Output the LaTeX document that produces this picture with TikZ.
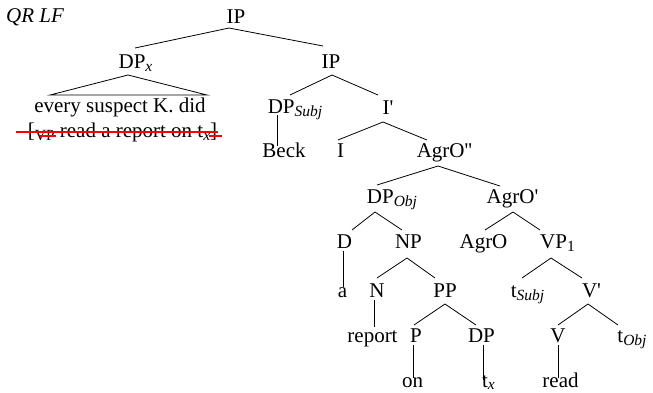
\documentclass[tikz,border=0pt]{standalone}
\usepackage{fontspec}
\newfontfamily\tms{Liberation Serif}
\newcommand{\mysub}[2][-3.5pt]{\raisebox{#1}{\fontsize{15.5}{16}\selectfont #2}}
\begin{document}
\begin{tikzpicture}[x=1pt,y=-1pt,
  lbl/.style={anchor=base,inner sep=0pt,font=\tms\fontsize{21}{24}\selectfont},
  edge/.style={line width=0.8pt},
  strike/.style={red,line width=1.6pt}]
\useasboundingbox (0,0) rectangle (653,392);
% labels
\node[lbl,anchor=base west] (qr) at (6,22) {\itshape QR LF};
\node[lbl] (IPr) at (236,23) {IP};
\node[lbl] (DPx) at (135.5,68) {DP\mysub{\itshape x}};
\node[lbl] (IP2) at (331,68) {IP};
\node[lbl] (ev1) at (120,112) {every suspect K. did};
\node[lbl] (ev2) at (122.5,137) {[\mysub{VP} read a report on t\mysub{\itshape x}]};
\node[lbl] (DPs) at (295,113) {DP\mysub{\itshape Subj}};
\node[lbl] (Ib) at (388,114) {I'};
\node[lbl] (Beck) at (284,157) {Beck};
\node[lbl] (I) at (340.5,157) {I};
\node[lbl] (AgrOpp) at (444.5,157) {AgrO''};
\node[lbl] (DPo) at (392,203) {DP\mysub{\itshape Obj}};
\node[lbl] (AgrOp) at (512.5,203) {AgrO'};
\node[lbl] (D) at (344.5,248) {D};
\node[lbl] (NP) at (408.5,248) {NP};
\node[lbl] (AgrO) at (483.5,248) {AgrO};
\node[lbl] (VP1) at (557.5,248) {VP\mysub{1}};
\node[lbl] (a) at (342.5,297) {a};
\node[lbl] (N) at (377,297) {N};
\node[lbl] (PP) at (445,297) {PP};
\node[lbl] (tS) at (527.5,297) {t\mysub{\itshape Subj}};
\node[lbl] (Vb) at (591.5,297) {V'};
\node[lbl] (report) at (372.5,342) {report};
\node[lbl] (P) at (416,342) {P};
\node[lbl] (DPt) at (481.5,342) {DP};
\node[lbl] (V) at (558,342) {V};
\node[lbl] (tO) at (632,342) {t\mysub{\itshape Obj}};
\node[lbl] (on) at (412.5,387) {on};
\node[lbl] (tx) at (488.5,387) {t\mysub[-2pt]{\itshape x}};
\node[lbl] (read) at (560.5,387) {read};
% branches
\draw[edge] ([shift={(-0.5,-20)}]DPx.base) -- ([shift={(-7,5)}]IPr.base) -- ([shift={(-8,-22)}]IP2.base);
\draw[edge] ([shift={(-70,-17)}]ev1.base) -- ([shift={(-7.5,7)}]DPx.base) -- ([shift={(87,-17)}]ev1.base) -- cycle;
\draw[edge] ([shift={(-5,-18)}]DPs.base) -- ([shift={(1,7)}]IP2.base) -- ([shift={(-10,-19)}]Ib.base);
\draw[edge] ([shift={(-18,2)}]DPs.base) -- ([shift={(-7,-11)}]Beck.base);
\draw[edge] ([shift={(-2.5,-17)}]I.base) -- ([shift={(-5,8)}]Ib.base) -- ([shift={(-17.5,-17)}]AgrOpp.base);
\draw[edge] ([shift={(-15,-18)}]DPo.base) -- ([shift={(-6.5,9)}]AgrOpp.base) -- ([shift={(-12.5,-17)}]AgrOp.base);
\draw[edge] ([shift={(7.5,-18)}]D.base) -- ([shift={(-17,9)}]DPo.base) -- ([shift={(-6.5,-18)}]NP.base);
\draw[edge] ([shift={(-1.5,3)}]D.base) -- ([shift={(0.5,-10)}]a.base);
\draw[edge] ([shift={(1.5,-18)}]AgrO.base) -- ([shift={(0.5,9)}]AgrOp.base) -- ([shift={(-17.5,-18)}]VP1.base);
\draw[edge] ([shift={(0,-19)}]N.base) -- ([shift={(-1.5,10)}]NP.base) -- ([shift={(-10,-19)}]PP.base);
\draw[edge] ([shift={(-5.5,-19)}]tS.base) -- ([shift={(-6.5,10)}]VP1.base) -- ([shift={(-9.5,-19)}]Vb.base);
\draw[edge] ([shift={(-3,3)}]N.base) -- ([shift={(1.5,-15)}]report.base);
\draw[edge] ([shift={(-2,-17)}]P.base) -- ([shift={(0,7)}]PP.base) -- ([shift={(-5.5,-17)}]DPt.base);
\draw[edge] ([shift={(0,-17)}]V.base) -- ([shift={(-3.5,7)}]Vb.base) -- ([shift={(-14,-17)}]tO.base);
\draw[edge] ([shift={(-3,3)}]P.base) -- ([shift={(0.5,-9)}]on.base);
\draw[edge] ([shift={(1.5,3)}]DPt.base) -- ([shift={(-5.5,-7)}]tx.base);
\draw[edge] ([shift={(0,3)}]V.base) -- ([shift={(-2.5,-9)}]read.base);
% strike-through
\draw[strike] ([shift={(-106.5,-5)}]ev2.base) -- ([shift={(95.5,-5)}]ev2.base);
\draw[strike] ([shift={(-82.5,-1)}]ev2.base) -- ([shift={(-66.5,-1)}]ev2.base);
\draw[strike] ([shift={(86.5,-1)}]ev2.base) -- ([shift={(99.5,-1)}]ev2.base);
\end{tikzpicture}
\end{document}
